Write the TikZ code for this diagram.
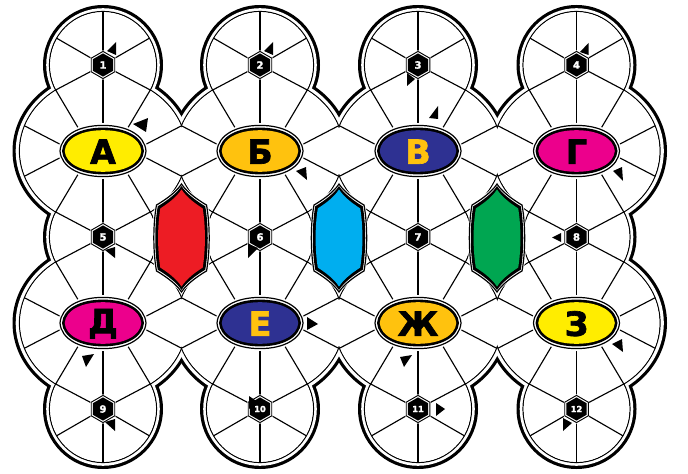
\documentclass[tikz,border=0pt]{standalone}
\usepackage{fontspec}
\newfontfamily\heavy[FakeBold=2]{DejaVu Sans}
\definecolor{cyel}{HTML}{FFED00}
\definecolor{cgold}{HTML}{FFC20E}
\definecolor{cnavy}{HTML}{2E3192}
\definecolor{cmag}{HTML}{EC008C}
\definecolor{cred}{HTML}{ED1C24}
\definecolor{ccyan}{HTML}{00AEEF}
\definecolor{cgreen}{HTML}{00A651}
\tikzset{
  spoke/.style={line width=0.85pt, black, line cap=round},
  thinline/.style={line width=0.9pt, black},
  marker/.style={fill=black},
}
\newcommand\ovalpath[2]{(-#1,0) .. controls ({-0.97*#1},{-0.62*#2}) and ({-0.56*#1},{-#2}) .. (0,{-#2}) .. controls ({0.56*#1},{-#2}) and ({0.97*#1},{-0.62*#2}) .. (#1,0) .. controls ({0.97*#1},{0.62*#2}) and ({0.56*#1},{#2}) .. (0,{#2}) .. controls ({-0.56*#1},{#2}) and ({-0.97*#1},{0.62*#2}) .. cycle}
\newcommand\hexpath[1]{(90:#1) -- (30:#1) -- (-30:#1) -- (-90:#1) -- (-150:#1) -- (150:#1) -- cycle}
\newcommand\shieldpath[2]{(0,{-#2}) .. controls ({-0.18*#1},{-0.86*#2}) and ({-0.55*#1},{-0.72*#2}) .. ({-0.92*#1},{-0.61*#2}) .. controls ({-1.05*#1},{-0.25*#2}) and ({-1.05*#1},{0.25*#2}) .. ({-0.92*#1},{0.61*#2}) .. controls ({-0.55*#1},{0.72*#2}) and ({-0.18*#1},{0.86*#2}) .. (0,{#2}) .. controls ({0.18*#1},{0.86*#2}) and ({0.55*#1},{0.72*#2}) .. ({0.92*#1},{0.61*#2}) .. controls ({1.05*#1},{0.25*#2}) and ({1.05*#1},{-0.25*#2}) .. ({0.92*#1},{-0.61*#2}) .. controls ({0.55*#1},{-0.72*#2}) and ({0.18*#1},{-0.86*#2}) .. cycle}
\begin{document}
\begin{tikzpicture}[x=0.75pt,y=-0.75pt]
\useasboundingbox (0,0) rectangle (688,474);
\fill[white] (0,0) rectangle (688,474);
% named centres
\foreach \c/\x in {1/103,2/260,3/418,4/576.5}{
  \coordinate (H\c) at (\x,65);
  \coordinate (O\c) at (\x,151);
}
\foreach \c/\x in {5/103,6/260,7/418,8/576.5}{
  \coordinate (H\c) at (\x,237);
  \coordinate (P\c) at (\x,323);
}
\foreach \c/\x in {9/103,10/260,11/418,12/576.5}{
  \coordinate (H\c) at (\x,409);
}
% ---- board: union of wheels with double outline
\foreach \x in {103,260,418,576.5}{
  \foreach \y in {65,237,409} \fill[black] (\x,\y) circle[radius=60];
  \foreach \y in {151,323} \fill[black] (\x,\y) ellipse[x radius=90.5,y radius=81];
}
\foreach \x in {103,260,418,576.5}{
  \foreach \y in {65,237,409} \fill[white] (\x,\y) circle[radius=56.8];
  \foreach \y in {151,323} \fill[white] (\x,\y) ellipse[x radius=87.3,y radius=77.8];
}
\foreach \x in {103,260,418,576.5}{
  \foreach \y in {65,237,409} \draw[thinline] (\x,\y) circle[radius=53.5];
  \foreach \y in {151,323} \draw[thinline] (\x,\y) ellipse[x radius=83.5,y radius=74];
}
\foreach \x in {103,260,418,576.5}{
  \foreach \y in {65,237,409} \fill[white] (\x,\y) circle[radius=52.9];
  \foreach \y in {151,323} \fill[white] (\x,\y) ellipse[x radius=82.9,y radius=73.4];
}
% ---- spokes of the large wheels
\foreach \n in {O1,O2,O3,O4,P5,P6,P7,P8}{
  \begin{scope}[shift={(\n)}]
    \draw[spoke] (-78.5,-25.2) -- (-30,0) -- (-78.5,25.2);
    \draw[spoke] (78.5,-25.2) -- (30,0) -- (78.5,25.2);
    \draw[spoke] (-47.3,-61) -- (-20,-15);
    \draw[spoke] (47.3,-61) -- (20,-15);
    \draw[spoke] (-47.3,61) -- (-20,15);
    \draw[spoke] (47.3,61) -- (20,15);
    \draw[spoke] (0,-86) -- (0,86);
  \end{scope}
}
% ---- spokes of the small wheels
\foreach \n in {H1,H2,H3,H4}{
  \begin{scope}[shift={(\n)}]
    \draw[spoke] (0,-53.5) -- (0,0);
    \draw[spoke] (46.3,-26.75) -- (0,0) -- (-46.3,-26.75);
    \draw[spoke] (47.3,25) -- (0,0) -- (-47.3,25);
  \end{scope}
}
\foreach \n in {H5,H6,H7,H8}{
  \begin{scope}[shift={(\n)}]
    \draw[spoke] (47.3,-25) -- (-47.3,25);
    \draw[spoke] (-47.3,-25) -- (47.3,25);
  \end{scope}
}
\foreach \n in {H9,H10,H11,H12}{
  \begin{scope}[shift={(\n)}]
    \draw[spoke] (0,53.5) -- (0,0);
    \draw[spoke] (46.3,26.75) -- (0,0) -- (-46.3,26.75);
    \draw[spoke] (47.3,-25) -- (0,0) -- (-47.3,-25);
  \end{scope}
}
% ---- coloured shields
\foreach \x/\col in {181.5/cred,339/ccyan,497/cgreen}{
  \begin{scope}[shift={(\x,238)}]
    \fill[white] \shieldpath{28.6}{55.8};
    \draw[thinline] \shieldpath{27.2}{54};
    \fill[black] \shieldpath{25.8}{52};
    \fill[\col] \shieldpath{23}{48.6};
  \end{scope}
}
% ---- ovals
\foreach \n/\col/\lc/\t in {O1/cyel/black/А,O2/cgold/black/Б,O3/cnavy/cgold/В,O4/cmag/black/Г,P5/cmag/black/Д,P6/cnavy/cgold/Е,P7/cgold/black/Ж,P8/cyel/black/З}{
  \begin{scope}[shift={(\n)}]
    \fill[white] \ovalpath{45}{28};
    \draw[thinline] \ovalpath{43}{25.6};
    \fill[black] \ovalpath{41}{23.4};
    \fill[\col] \ovalpath{38.3}{20.8};
  \end{scope}
  \node[text=\lc, font=\heavy\bfseries\fontsize{25}{25}\selectfont, inner sep=0pt] (L\n) at ([yshift=-0.5pt]\n) {\t};
}
% ---- hexagons with numbers
\foreach \n in {1,...,12}{
  \begin{scope}[shift={(H\n)}]
    \fill[white] \hexpath{14.7};
    \draw[line width=0.7pt] \hexpath{13.6};
    \fill[black] \hexpath{11.6};
  \end{scope}
}
\foreach \n in {1,...,9}{
  \node[text=white, font=\heavy\bfseries\fontsize{7.5}{7.5}\selectfont, inner sep=0pt] (N\n) at (H\n) {\n};
}
\foreach \n in {10,11,12}{
  \node[text=white, font=\heavy\bfseries\fontsize{6.3}{6.3}\selectfont, inner sep=0pt] (N\n) at (H\n) {\n};
}
% ---- small pointer triangles
\fill[marker] (107,51) -- (116,42) -- (116,55) -- cycle;
\fill[marker] (264,51) -- (273,42) -- (273,55) -- cycle;
\fill[marker] (407,73) -- (407,86) -- (415,79) -- cycle;
\fill[marker] (580,52) -- (588.5,43) -- (588.5,55) -- cycle;
\fill[marker] (133,124) -- (148,118) -- (146,132) -- cycle;
\fill[marker] (296,171) -- (306,167) -- (307,180) -- cycle;
\fill[marker] (429,118) -- (438,106) -- (438,119) -- cycle;
\fill[marker] (613,171) -- (622,167) -- (623,181) -- cycle;
\fill[marker] (105,250) -- (115,247) -- (115,258) -- cycle;
\fill[marker] (248,244) -- (258,248) -- (248,258) -- cycle;
\fill[marker] (561,233) -- (552,237.5) -- (561,242) -- cycle;
\fill[marker] (82,356) -- (94,354) -- (86,367) -- cycle;
\fill[marker] (307,317) -- (318,324) -- (307,330) -- cycle;
\fill[marker] (400,357) -- (412,355) -- (404,367) -- cycle;
\fill[marker] (612,344) -- (622,339) -- (623,352) -- cycle;
\fill[marker] (105,422) -- (115,419) -- (115,431) -- cycle;
\fill[marker] (249,396) -- (258,402) -- (249,409) -- cycle;
\fill[marker] (436,403) -- (445,409) -- (436,416) -- cycle;
\fill[marker] (563,418) -- (572,423) -- (563,431) -- cycle;
\end{tikzpicture}
\end{document}
